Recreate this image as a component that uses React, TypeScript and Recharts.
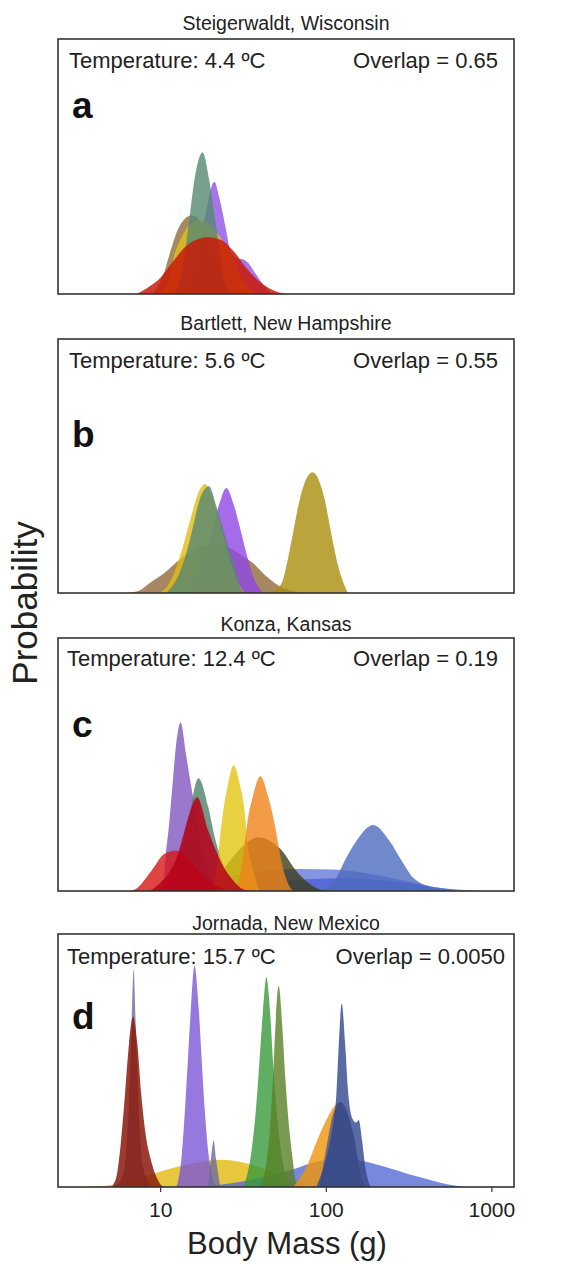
import React from 'react';
import { AreaChart, Area, XAxis, YAxis } from 'recharts';

// [body mass in g, density as a share of the panel height]
type Pt = [number, number];

// a — Steigerwaldt, Wisconsin
const aPurple: Pt[] = [[14.3, 0], [16.4, 0.12], [18.5, 0.3], [21.1, 0.44], [22.6, 0.377], [24.7, 0.259], [26.4, 0.168], [28.9, 0.14], [31.6, 0.135], [34.5, 0.115], [37.7, 0.076], [43.1, 0.024], [46.6, 0]];
const aBrown: Pt[] = [[8.78, 0], [9.5, 0.024], [10.4, 0.076], [11.3, 0.154], [12.7, 0.253], [14.0, 0.295], [15.4, 0.309], [17.1, 0.29], [18.9, 0.24], [21.2, 0.15], [23.6, 0.07], [26.7, 0]];
const aYellow: Pt[] = [[9.86, 0], [11.07, 0.05], [12.1, 0.154], [13.3, 0.22], [15.3, 0.275], [17.7, 0.288], [20.7, 0.26], [24.1, 0.2], [27.0, 0.148], [30.0, 0.08], [34.5, 0.02], [37.8, 0]];
const aTeal: Pt[] = [[11.9, 0], [13.3, 0.07], [14.6, 0.25], [16.2, 0.47], [17.9, 0.556], [19.6, 0.45], [21.7, 0.26], [23.8, 0.08], [26.7, 0]];
const aRed: Pt[] = [[7.13, 0], [8.3, 0.024], [9.95, 0.063], [11.9, 0.128], [14.2, 0.187], [17.0, 0.217], [19.3, 0.223], [23.0, 0.213], [27.6, 0.168], [32.9, 0.102], [39.3, 0.05], [47.0, 0.017], [57.4, 0]];

// b — Bartlett, New Hampshire
const bBrown: Pt[] = [[6.21, 0], [7.47, 0.01], [8.58, 0.039], [10.8, 0.085], [13.0, 0.131], [15.7, 0.17], [18.9, 0.188], [22.7, 0.19], [27.4, 0.17], [31.4, 0.145], [36.1, 0.118], [43.5, 0.066], [54.8, 0.02], [75.8, 0]];
const bPurple: Pt[] = [[15.3, 0], [17.2, 0.066], [18.9, 0.157], [20.7, 0.262], [22.7, 0.354], [24.9, 0.413], [27.4, 0.354], [30.0, 0.262], [32.9, 0.157], [36.1, 0.066], [41.5, 0]];
const bYellow: Pt[] = [[9.86, 0], [11.3, 0.039], [12.7, 0.118], [14.0, 0.21], [15.3, 0.302], [16.8, 0.39], [18.5, 0.429], [20.2, 0.39], [22.2, 0.3], [24.4, 0.2], [26.7, 0.11], [29.3, 0.04], [32.1, 0]];
const bTeal: Pt[] = [[10.8, 0], [13.0, 0.079], [14.3, 0.157], [15.7, 0.262], [17.2, 0.367], [19.6, 0.42], [21.7, 0.341], [24.9, 0.21], [28.0, 0.105], [30.7, 0.013], [32.9, 0]];
const bGold: Pt[] = [[39.6, 0], [48.0, 0.008], [54.0, 0.04], [57.4, 0.105], [63.0, 0.236], [69.1, 0.367], [82.4, 0.475], [97.9, 0.367], [107, 0.236], [118, 0.105], [135, 0]];

// c — Konza, Kansas
const cBlueWide: Pt[] = [[6.21, 0], [10.8, 0.01], [17.2, 0.03], [27.4, 0.06], [43.5, 0.08], [69.1, 0.087], [110, 0.085], [175, 0.07], [278, 0.044], [441, 0.017], [701, 0]];
const cBlueLow: Pt[] = [[17.2, 0], [34.5, 0.02], [69.1, 0.045], [138, 0.05], [278, 0.035], [484, 0.012], [885, 0]];
const cBluePeak: Pt[] = [[91.3, 0], [115, 0.053], [129, 0.119], [152, 0.198], [192, 0.261], [241, 0.198], [286, 0.119], [334, 0.053], [441, 0.013], [531, 0]];
const cOlive: Pt[] = [[18.0, 0], [21.7, 0.05], [27.4, 0.136], [32.9, 0.19], [39.1, 0.212], [47.7, 0.19], [54.8, 0.155], [63.0, 0.096], [72.4, 0.05], [85.1, 0.015], [100, 0]];
const cPurple: Pt[] = [[9.86, 0], [10.4, 0.026], [10.7, 0.132], [11.2, 0.252], [11.9, 0.45], [12.4, 0.58], [13.2, 0.666], [14.2, 0.543], [15.2, 0.424], [16.4, 0.3], [17.6, 0.18], [19.3, 0.07], [21.7, 0]];
const cTeal: Pt[] = [[9.86, 0], [10.8, 0.02], [12.4, 0.1], [13.6, 0.19], [15.0, 0.3], [15.9, 0.397], [16.9, 0.446], [19.4, 0.331], [21.2, 0.212], [23.1, 0.132], [25.3, 0.066], [28.8, 0.013], [31.4, 0]];
const cYellow: Pt[] = [[19.5, 0], [21.0, 0.04], [22.1, 0.12], [22.6, 0.185], [23.6, 0.291], [25.3, 0.41], [27.6, 0.497], [30.1, 0.42], [32.1, 0.318], [33.5, 0.185], [35.9, 0.093], [38.5, 0.02], [40, 0]];
const cOrange: Pt[] = [[28.0, 0], [29.3, 0.03], [30.7, 0.09], [32.1, 0.185], [33.5, 0.278], [35.9, 0.371], [40.0, 0.454], [44.7, 0.371], [48.8, 0.265], [52.1, 0.159], [54.8, 0.09], [58.8, 0.03], [63.0, 0]];
const cRedLight: Pt[] = [[6.5, 0], [7.03, 0.007], [8.78, 0.079], [10.5, 0.146], [12.4, 0.16], [15.0, 0.12], [18.0, 0.06], [21.7, 0.02], [26.1, 0]];
const cRed: Pt[] = [[8.58, 0], [9.86, 0.03], [11.4, 0.079], [12.5, 0.132], [13.6, 0.212], [14.9, 0.305], [16.6, 0.371], [19.4, 0.238], [21.6, 0.159], [24.1, 0.093], [27.6, 0.04], [31.4, 0.007], [36.1, 0]];

// d — Jornada, New Mexico
const dYellow: Pt[] = [[3.24, 0], [5.3, 0.01], [8.15, 0.043], [12.6, 0.08], [17.7, 0.1], [23.2, 0.108], [30.0, 0.1], [43.5, 0.068], [57.4, 0.04], [69.1, 0.022], [91.3, 0]];
const dBlue: Pt[] = [[15.7, 0], [27.4, 0.016], [43.5, 0.042], [63.0, 0.07], [87.1, 0.1], [121, 0.112], [175, 0.1], [220, 0.082], [350, 0.042], [556, 0.009], [701, 0]];
const dGreySpike: Pt[] = [[5.4, 0], [6.06, 0.08], [6.44, 0.35], [6.65, 0.6], [6.87, 0.86], [7.1, 0.6], [7.33, 0.35], [7.82, 0.08], [8.78, 0]];
const dRed: Pt[] = [[5.04, 0], [5.18, 0.01], [5.42, 0.043], [5.73, 0.164], [6.09, 0.365], [6.44, 0.566], [6.81, 0.674], [7.23, 0.566], [7.64, 0.365], [8.15, 0.2], [8.71, 0.11], [9.29, 0.05], [9.86, 0.015], [10.5, 0]];
const dPurple: Pt[] = [[12.4, 0], [12.8, 0.03], [13.4, 0.123], [14.0, 0.298], [14.6, 0.5], [15.2, 0.7], [16.0, 0.875], [17.0, 0.7], [17.7, 0.5], [18.5, 0.298], [19.3, 0.15], [20.1, 0.07], [21.1, 0.016], [22.2, 0]];
const dGreySmall: Pt[] = [[19.3, 0], [20.1, 0.11], [20.9, 0.184], [21.6, 0.11], [22.9, 0]];
const dGreen: Pt[] = [[31.4, 0], [33.2, 0.043], [35.5, 0.15], [37.5, 0.297], [39.5, 0.497], [41.5, 0.698], [43.5, 0.829], [45.7, 0.698], [47.7, 0.497], [50.2, 0.297], [53.1, 0.15], [56.9, 0.043], [60.1, 0]];
const dOlive: Pt[] = [[39.6, 0], [41.5, 0.03], [43.5, 0.096], [45.7, 0.23], [47.7, 0.43], [49.3, 0.631], [51.6, 0.794], [54.3, 0.631], [56.6, 0.43], [59.8, 0.23], [63.0, 0.096], [65.0, 0.03], [68.2, 0]];
const dOrange: Pt[] = [[63.0, 0], [78.0, 0.096], [88.8, 0.19], [101, 0.27], [112, 0.32], [122, 0.335], [132, 0.3], [145, 0.2], [159, 0.08], [175, 0]];
const dSlate: Pt[] = [[91.3, 0], [103, 0.2], [110, 0.29], [122, 0.335], [135, 0.29], [148, 0.19], [161, 0.05], [175, 0]];
const dNavy: Pt[] = [[87.1, 0], [93.3, 0.05], [103, 0.15], [110, 0.25], [115, 0.364], [119, 0.564], [124, 0.725], [130, 0.564], [136, 0.364], [144, 0.27], [151, 0.255], [157, 0.265], [164, 0.19], [173, 0.07], [185, 0]];

const massTicks = [10, 100, 1000];
const sites = ['Steigerwaldt, Wisconsin', 'Bartlett, New Hampshire', 'Konza, Kansas', 'Jornada, New Mexico'];
const temperatures = ['4.4', '5.6', '12.4', '15.7'];
const overlaps = ['0.65', '0.55', '0.19', '0.0050'];
const letters = ['a', 'b', 'c', 'd'];

const FONT = '"Liberation Sans", Arial, Helvetica, sans-serif';
const BOX_L = 58;
const BOX_R = 514;
const W = 570;

type Series = { pts: Pt[]; color: string; op?: number };

const panels: { top: number; h: number; series: Series[] }[] = [
  {
    top: 39, h: 255,
    series: [
      { pts: aPurple, color: '#9152e5' },
      { pts: aBrown, color: '#926d3b' },
      { pts: aYellow, color: '#e2bf16' },
      { pts: aTeal, color: '#568873' },
      { pts: aRed, color: '#c81a08', op: 0.85 },
    ],
  },
  {
    top: 339, h: 254,
    series: [
      { pts: bBrown, color: '#91693a' },
      { pts: bPurple, color: '#9046e6' },
      { pts: bYellow, color: '#e2bc10' },
      { pts: bTeal, color: '#568873' },
      { pts: bGold, color: '#ab8d0b' },
    ],
  },
  {
    top: 638, h: 253,
    series: [
      { pts: cBlueWide, color: '#5368d5', op: 0.7 },
      { pts: cBlueLow, color: '#3d4fcf', op: 0.6 },
      { pts: cBluePeak, color: '#4c6abf' },
      { pts: cOlive, color: '#3c3d1b' },
      { pts: cPurple, color: '#8156bf' },
      { pts: cTeal, color: '#4f7f6a' },
      { pts: cYellow, color: '#e2c411' },
      { pts: cOrange, color: '#ef831a' },
      { pts: cRedLight, color: '#d81616' },
      { pts: cRed, color: '#b8001a', op: 0.85 },
    ],
  },
  {
    top: 934, h: 253,
    series: [
      { pts: dYellow, color: '#e0b90c' },
      { pts: dBlue, color: '#566ad3' },
      { pts: dGreySpike, color: '#6d6a9c' },
      { pts: dRed, color: '#8b1a0c', op: 0.85 },
      { pts: dPurple, color: '#7d56d6' },
      { pts: dGreySmall, color: '#6d6a9c' },
      { pts: dGreen, color: '#379a3b' },
      { pts: dOlive, color: '#598127' },
      { pts: dOrange, color: '#ef9509' },
      { pts: dSlate, color: '#485f8e' },
      { pts: dNavy, color: '#31458d' },
    ],
  },
];

const rows = (pts: Pt[]) => pts.map(([m, p]) => ({ m, p }));

function Panel({ top, h, series, showAxis }: { top: number; h: number; series: Series[]; showAxis: boolean }) {
  const axisH = 40;
  return (
    <div style={{ position: 'absolute', left: 0, top }}>
      <AreaChart
        width={W}
        height={h + (showAxis ? axisH : 0)}
        margin={{ top: 0, right: W - BOX_R, bottom: 0, left: BOX_L }}
      >
        <XAxis
          type="number"
          dataKey="m"
          scale="log"
          domain={[2.4, 1360]}
          allowDataOverflow
          ticks={massTicks}
          interval={0}
          hide={!showAxis}
          height={axisH}
          axisLine={false}
          tickLine={{ stroke: '#333', strokeWidth: 1.2 }}
          tickSize={5}
          tickMargin={10}
          tick={{ fontSize: 21, fill: '#222', fontFamily: FONT }}
        />
        <YAxis type="number" domain={[0, 1]} allowDataOverflow hide />
        {series.map((s, i) => (
          <Area
            key={i}
            data={rows(s.pts)}
            dataKey="p"
            type="monotone"
            stroke="none"
            fill={s.color}
            fillOpacity={s.op ?? 0.8}
            dot={false}
            activeDot={false}
            isAnimationActive={false}
          />
        ))}
      </AreaChart>
    </div>
  );
}

const titleBase = [30, 330, 631, 930];
const infoBase = [68, 368, 666, 964];
const infoLeft = [69, 69, 67, 67];
const overlapRight = [498, 498, 498, 505];
const letterBase = [118, 447, 737, 1029];

export default function App() {
  return (
    <div style={{ position: 'absolute', left: 0, top: 0, width: W, height: 1264, background: '#fff' }}>
      {panels.map((p, i) => (
        <Panel key={i} top={p.top} h={p.h} series={p.series} showAxis={i === panels.length - 1} />
      ))}
      <svg width={W} height={1264} style={{ position: 'absolute', left: 0, top: 0, pointerEvents: 'none' }} fontFamily={FONT}>
        {panels.map((p, i) => (
          <g key={i}>
            <rect x={BOX_L} y={p.top} width={BOX_R - BOX_L} height={p.h} fill="none" stroke="#333" strokeWidth={1.6} />
            <text x={(BOX_L + BOX_R) / 2} y={titleBase[i]} textAnchor="middle" fontSize={19.5} fill="#222">{sites[i]}</text>
            <text x={infoLeft[i]} y={infoBase[i]} fontSize={22} fill="#222">{`Temperature: ${temperatures[i]} ºC`}</text>
            <text x={overlapRight[i]} y={infoBase[i]} textAnchor="end" fontSize={22} fill="#222">{`Overlap = ${overlaps[i]}`}</text>
            <text x={72} y={letterBase[i]} fontSize={37} fontWeight="bold" fill="#111">{letters[i]}</text>
          </g>
        ))}
        <text x={37} y={603} transform="rotate(-90 37 603)" textAnchor="middle" fontSize={35} fill="#222">Probability</text>
        <text x={287} y={1254} textAnchor="middle" fontSize={31} fill="#222">Body Mass (g)</text>
      </svg>
    </div>
  );
}
